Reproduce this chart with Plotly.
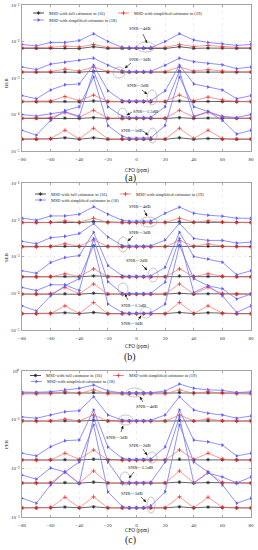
import math
import plotly.graph_objects as go

# ---------------- data ----------------
cfo = [-80, -70, -60, -50, -40, -30, -20, -10, -5, 0, 5, 10, 20, 30, 40, 50, 60, 70, 80]
snr_labels = ["SNR=-4dB", "SNR=-3dB", "SNR=-2dB", "SNR=-1.5dB", "SNR=-1dB"]
legend_labels = ["MSD with full estimator in (16)",
                 "MSD with simplified estimator in (19)",
                 "MSD with simplified estimator in (18)"]
xtick_vals = [-80, -60, -40, -20, 0, 20, 40, 60, 80]

# (a) BER
ber_full_m4 = [6.5e-3, 6.5e-3, 6.6e-3, 6.6e-3, 6.4e-3, 7.2e-3, 6.5e-3, 6.5e-3, 6.5e-3, 6.5e-3, 6.5e-3, 6.5e-3, 6.4e-3, 7.2e-3, 6.5e-3, 6.6e-3, 6.6e-3, 6.5e-3, 6.5e-3]
ber_s19_m4 = [6.8e-3, 6.8e-3, 6.9e-3, 7.5e-3, 7.1e-3, 8.3e-3, 6.9e-3, 6.8e-3, 6.8e-3, 6.8e-3, 6.8e-3, 6.8e-3, 6.9e-3, 8.3e-3, 7.3e-3, 7.8e-3, 7.2e-3, 6.9e-3, 6.8e-3]
ber_s18_m4 = [8.3e-3, 7.6e-3, 9.4e-3, 9.4e-3, 1.06e-2, 1.64e-2, 1.0e-2, 6.9e-3, 6.7e-3, 6.7e-3, 6.7e-3, 6.8e-3, 1.0e-2, 1.64e-2, 1.1e-2, 9.4e-3, 8.6e-3, 7.8e-3, 8.3e-3]
ber_full_m3 = [1.45e-3, 1.45e-3, 1.45e-3, 1.47e-3, 1.44e-3, 1.52e-3, 1.45e-3, 1.45e-3, 1.45e-3, 1.45e-3, 1.45e-3, 1.45e-3, 1.45e-3, 1.52e-3, 1.45e-3, 1.47e-3, 1.45e-3, 1.45e-3, 1.45e-3]
ber_s19_m3 = [1.48e-3, 1.48e-3, 1.5e-3, 1.75e-3, 1.55e-3, 2.0e-3, 1.5e-3, 1.48e-3, 1.48e-3, 1.48e-3, 1.48e-3, 1.48e-3, 1.5e-3, 2.0e-3, 1.55e-3, 1.7e-3, 1.55e-3, 1.5e-3, 1.48e-3]
ber_s18_m3 = [2.0e-3, 1.7e-3, 2.4e-3, 2.7e-3, 3.05e-3, 3.5e-3, 2.25e-3, 1.55e-3, 1.5e-3, 1.5e-3, 1.5e-3, 1.52e-3, 2.25e-3, 3.5e-3, 2.8e-3, 2.5e-3, 2.3e-3, 1.8e-3, 2.0e-3]
ber_full_m2 = [2.24e-4, 2.24e-4, 2.26e-4, 2.28e-4, 2.22e-4, 2.35e-4, 2.24e-4, 2.24e-4, 2.24e-4, 2.24e-4, 2.24e-4, 2.24e-4, 2.24e-4, 2.35e-4, 2.24e-4, 2.28e-4, 2.26e-4, 2.24e-4, 2.24e-4]
ber_s19_m2 = [2.3e-4, 2.3e-4, 2.35e-4, 3.1e-4, 2.4e-4, 3.4e-4, 2.3e-4, 2.3e-4, 2.3e-4, 2.3e-4, 2.3e-4, 2.3e-4, 2.3e-4, 3.4e-4, 2.4e-4, 3.0e-4, 2.5e-4, 2.3e-4, 2.3e-4]
ber_s18_m2 = [3.3e-4, 2.7e-4, 4.7e-4, 6.5e-4, 6.9e-4, 2.25e-3, 4.5e-4, 2.4e-4, 2.35e-4, 2.35e-4, 2.35e-4, 2.38e-4, 4.5e-4, 2.25e-3, 6.9e-4, 5.7e-4, 4.7e-4, 2.7e-4, 3.3e-4]
ber_full_m15 = [7.8e-5, 7.8e-5, 7.9e-5, 8.0e-5, 7.8e-5, 8.2e-5, 7.8e-5, 7.8e-5, 7.8e-5, 7.8e-5, 7.8e-5, 7.8e-5, 7.8e-5, 8.2e-5, 7.8e-5, 8.0e-5, 7.9e-5, 7.8e-5, 7.8e-5]
ber_s19_m15 = [8.0e-5, 8.0e-5, 8.2e-5, 1.13e-4, 8.5e-5, 1.3e-4, 8.0e-5, 8.0e-5, 8.0e-5, 8.0e-5, 8.0e-5, 8.0e-5, 8.0e-5, 1.3e-4, 8.5e-5, 1.15e-4, 8.5e-5, 8.0e-5, 8.0e-5]
ber_s18_m15 = [1.0e-4, 9.0e-5, 1.05e-4, 1.2e-4, 8.9e-5, 1.55e-3, 1.64e-4, 8.9e-5, 8.3e-5, 8.3e-5, 8.3e-5, 8.4e-5, 1.64e-4, 1.55e-3, 8.9e-5, 1.2e-4, 8.9e-5, 8.3e-5, 1.0e-4]
ber_full_m1 = [2.1e-5, 2.1e-5, 2.15e-5, 2.3e-5, 2.1e-5, 2.3e-5, 2.1e-5, 2.1e-5, 2.1e-5, 2.1e-5, 2.1e-5, 2.1e-5, 2.1e-5, 2.3e-5, 2.1e-5, 2.2e-5, 2.1e-5, 2.1e-5, 2.1e-5]
ber_s19_m1 = [2.15e-5, 2.15e-5, 2.2e-5, 3.7e-5, 2.15e-5, 4.2e-5, 2.15e-5, 2.15e-5, 2.15e-5, 2.15e-5, 2.15e-5, 2.15e-5, 2.15e-5, 4.2e-5, 2.2e-5, 3.7e-5, 2.2e-5, 2.15e-5, 2.15e-5]
ber_s18_m1 = [3.7e-5, 2.7e-5, 6.9e-5, 1.28e-4, 1.64e-4, 1.06e-3, 5.0e-5, 2.55e-5, 2.25e-5, 2.25e-5, 2.25e-5, 2.3e-5, 5.0e-5, 1.06e-3, 1.64e-4, 1.2e-4, 6.9e-5, 2.9e-5, 3.7e-5]

# (b) SER
ser_full_m4 = [8.5e-3, 8.5e-3, 8.6e-3, 8.6e-3, 8.4e-3, 8.9e-3, 8.5e-3, 8.5e-3, 8.5e-3, 8.5e-3, 8.5e-3, 8.5e-3, 8.5e-3, 8.9e-3, 8.5e-3, 8.6e-3, 8.6e-3, 8.5e-3, 8.5e-3]
ser_s19_m4 = [8.3e-3, 8.3e-3, 8.4e-3, 9.3e-3, 8.5e-3, 1.1e-2, 8.4e-3, 8.3e-3, 8.3e-3, 8.3e-3, 8.3e-3, 8.3e-3, 8.4e-3, 1.1e-2, 8.6e-3, 9.3e-3, 8.6e-3, 8.4e-3, 8.3e-3]
ser_s18_m4 = [1.12e-2, 9.7e-3, 1.27e-2, 1.27e-2, 1.42e-2, 2.25e-2, 1.42e-2, 9.7e-3, 9.1e-3, 9.1e-3, 9.1e-3, 9.2e-3, 1.5e-2, 2.2e-2, 1.5e-2, 1.33e-2, 1.25e-2, 1.1e-2, 1.1e-2]
ser_full_m3 = [1.88e-3, 1.88e-3, 1.89e-3, 1.9e-3, 1.87e-3, 1.95e-3, 1.88e-3, 1.88e-3, 1.88e-3, 1.88e-3, 1.88e-3, 1.88e-3, 1.88e-3, 1.95e-3, 1.88e-3, 1.9e-3, 1.89e-3, 1.88e-3, 1.88e-3]
ser_s19_m3 = [1.8e-3, 1.8e-3, 1.85e-3, 2.23e-3, 1.9e-3, 2.87e-3, 1.85e-3, 1.8e-3, 1.8e-3, 1.8e-3, 1.8e-3, 1.8e-3, 1.85e-3, 2.74e-3, 1.9e-3, 2.2e-3, 1.9e-3, 1.85e-3, 1.8e-3]
ser_s18_m3 = [2.58e-3, 2.23e-3, 3.25e-3, 3.53e-3, 4.2e-3, 7.9e-3, 3.4e-3, 2.0e-3, 1.92e-3, 1.92e-3, 1.92e-3, 1.95e-3, 2.8e-3, 8.0e-3, 3.1e-3, 2.74e-3, 2.74e-3, 2.31e-3, 2.47e-3]
ser_full_m2 = [2.83e-4, 2.83e-4, 2.85e-4, 2.87e-4, 2.8e-4, 2.95e-4, 2.83e-4, 2.83e-4, 2.83e-4, 2.83e-4, 2.83e-4, 2.83e-4, 2.83e-4, 2.95e-4, 2.83e-4, 2.87e-4, 2.85e-4, 2.83e-4, 2.83e-4]
ser_s19_m2 = [2.75e-4, 2.75e-4, 2.8e-4, 3.4e-4, 2.85e-4, 4.6e-4, 2.8e-4, 2.75e-4, 2.75e-4, 2.75e-4, 2.75e-4, 2.75e-4, 2.8e-4, 4.6e-4, 2.85e-4, 3.4e-4, 2.9e-4, 2.8e-4, 2.75e-4]
ser_s18_m2 = [4.1e-4, 3.5e-4, 6.9e-4, 9.4e-4, 1.06e-3, 4.55e-3, 5.7e-4, 3.0e-4, 2.9e-4, 2.9e-4, 2.9e-4, 2.95e-4, 5.1e-4, 4.55e-3, 1.0e-3, 8.5e-4, 7.0e-4, 3.2e-4, 4.1e-4]
ser_full_m15 = [9.5e-5, 9.5e-5, 9.6e-5, 9.7e-5, 9.4e-5, 1.0e-4, 9.5e-5, 9.5e-5, 9.5e-5, 9.5e-5, 9.5e-5, 9.5e-5, 9.5e-5, 1.0e-4, 9.5e-5, 9.7e-5, 9.6e-5, 9.5e-5, 9.5e-5]
ser_s19_m15 = [9.4e-5, 9.4e-5, 9.6e-5, 1.44e-4, 9.6e-5, 1.79e-4, 9.5e-5, 9.4e-5, 9.4e-5, 9.4e-5, 9.4e-5, 9.4e-5, 9.5e-5, 1.79e-4, 9.6e-5, 1.44e-4, 9.8e-5, 9.5e-5, 9.4e-5]
ser_s18_m15 = [1.44e-4, 1.18e-4, 1.71e-4, 1.69e-4, 1.18e-4, 3.1e-3, 2.07e-4, 1.0e-4, 9.8e-5, 9.8e-5, 9.8e-5, 1.0e-4, 2.0e-4, 3.1e-3, 1.05e-4, 1.6e-4, 1.32e-4, 7.0e-5, 9.5e-5]
ser_full_m1 = [2.8e-5, 2.8e-5, 2.85e-5, 2.95e-5, 2.8e-5, 3.0e-5, 2.8e-5, 2.8e-5, 2.8e-5, 2.8e-5, 2.8e-5, 2.8e-5, 2.8e-5, 3.0e-5, 2.8e-5, 2.95e-5, 2.85e-5, 2.8e-5, 2.8e-5]
ser_s19_m1 = [2.75e-5, 2.75e-5, 2.8e-5, 4.55e-5, 2.8e-5, 5.6e-5, 2.75e-5, 2.75e-5, 2.75e-5, 2.75e-5, 2.75e-5, 2.75e-5, 2.75e-5, 5.6e-5, 2.8e-5, 4.55e-5, 2.85e-5, 2.75e-5, 2.75e-5]
ser_s18_m1 = [4.55e-5, 3.3e-5, 8.5e-5, 1.6e-4, 2.5e-4, 2.0e-3, 5.1e-5, 3.0e-5, 2.85e-5, 2.85e-5, 2.85e-5, 2.9e-5, 5.1e-5, 2.0e-3, 2.5e-4, 1.6e-4, 8.5e-5, 3.0e-5, 4.55e-5]

# (c) PER
per_full_m4 = [0.353, 0.353, 0.355, 0.356, 0.352, 0.362, 0.353, 0.353, 0.353, 0.353, 0.353, 0.353, 0.353, 0.362, 0.353, 0.356, 0.355, 0.353, 0.353]
per_s19_m4 = [0.337, 0.337, 0.34, 0.375, 0.345, 0.41, 0.34, 0.337, 0.337, 0.337, 0.337, 0.337, 0.34, 0.41, 0.345, 0.375, 0.35, 0.34, 0.337]
per_s18_m4 = [0.37, 0.365, 0.375, 0.41, 0.44, 0.516, 0.39, 0.353, 0.355, 0.355, 0.355, 0.357, 0.39, 0.54, 0.44, 0.41, 0.40, 0.36, 0.375]
per_full_m3 = [0.094, 0.094, 0.0945, 0.095, 0.0935, 0.097, 0.094, 0.094, 0.094, 0.094, 0.094, 0.094, 0.094, 0.097, 0.094, 0.095, 0.0945, 0.094, 0.094]
per_s19_m3 = [0.092, 0.092, 0.093, 0.103, 0.094, 0.125, 0.093, 0.092, 0.092, 0.092, 0.092, 0.092, 0.093, 0.125, 0.094, 0.103, 0.095, 0.093, 0.092]
per_s18_m3 = [0.114, 0.107, 0.125, 0.146, 0.153, 0.297, 0.125, 0.0986, 0.096, 0.096, 0.096, 0.097, 0.125, 0.297, 0.158, 0.135, 0.125, 0.107, 0.119]
per_full_m2 = [0.0149, 0.0149, 0.015, 0.0151, 0.0148, 0.0154, 0.0149, 0.0149, 0.0149, 0.0149, 0.0149, 0.0149, 0.0149, 0.0154, 0.0149, 0.0151, 0.015, 0.0149, 0.0149]
per_s19_m2 = [0.0146, 0.0146, 0.0148, 0.0204, 0.0153, 0.0239, 0.0147, 0.0146, 0.0146, 0.0146, 0.0146, 0.0146, 0.0147, 0.0239, 0.0153, 0.0204, 0.0155, 0.0147, 0.0146]
per_s18_m2 = [0.0204, 0.018, 0.0279, 0.037, 0.0383, 0.158, 0.0275, 0.0161, 0.0153, 0.0153, 0.0153, 0.0155, 0.0275, 0.158, 0.038, 0.035, 0.030, 0.018, 0.0204]
per_full_m15 = [5.0e-3, 5.0e-3, 5.05e-3, 5.1e-3, 4.95e-3, 5.2e-3, 5.0e-3, 5.0e-3, 5.0e-3, 5.0e-3, 5.0e-3, 5.0e-3, 5.0e-3, 5.2e-3, 5.0e-3, 5.1e-3, 5.05e-3, 5.0e-3, 5.0e-3]
per_s19_m15 = [4.9e-3, 4.9e-3, 5.0e-3, 8.4e-3, 5.0e-3, 8.85e-3, 4.95e-3, 4.9e-3, 4.9e-3, 4.9e-3, 4.9e-3, 4.9e-3, 4.95e-3, 8.85e-3, 5.0e-3, 8.4e-3, 5.1e-3, 4.95e-3, 4.9e-3]
per_s18_m15 = [7.3e-3, 6.0e-3, 1.02e-2, 8.4e-3, 4.8e-3, 0.114, 1.35e-2, 5.2e-3, 5.1e-3, 5.1e-3, 5.1e-3, 5.2e-3, 1.35e-2, 0.114, 5.0e-3, 8.0e-3, 6.65e-3, 5.0e-3, 6.65e-3]
per_full_m1 = [1.54e-3, 1.54e-3, 1.56e-3, 1.6e-3, 1.54e-3, 1.62e-3, 1.54e-3, 1.54e-3, 1.54e-3, 1.54e-3, 1.54e-3, 1.54e-3, 1.54e-3, 1.62e-3, 1.54e-3, 1.6e-3, 1.56e-3, 1.54e-3, 1.54e-3]
per_s19_m1 = [1.54e-3, 1.54e-3, 1.56e-3, 2.55e-3, 1.55e-3, 2.6e-3, 1.55e-3, 1.54e-3, 1.54e-3, 1.54e-3, 1.54e-3, 1.54e-3, 1.55e-3, 2.6e-3, 1.55e-3, 2.55e-3, 1.58e-3, 1.55e-3, 1.54e-3]
per_s18_m1 = [2.43e-3, 1.92e-3, 4.56e-3, 8.4e-3, 1.35e-2, 0.078, 3.3e-3, 1.64e-3, 1.55e-3, 1.55e-3, 1.55e-3, 1.7e-3, 3.3e-3, 0.078, 1.35e-2, 8.4e-3, 4.56e-3, 1.92e-3, 2.43e-3]

# ---------------- layout constants (pixels) ----------------
W, H = 258, 550
PX_L, PX_R = 22, 251
SERIF = "Liberation Serif, Times New Roman, serif"
C_K, C_R, C_B = "#222222", "#ff6b6b", "#7474ff"
SUP = str.maketrans("-0123456789", "\u207b\u2070\u00b9\u00b2\u00b3\u2074\u2075\u2076\u2077\u2078\u2079")

def py(p):  # pixel row -> paper y
    return 1 - p / H

panels = [
    dict(ax="", top=5, bot=151, rng=[-5, -1],
         full=[ber_full_m4, ber_full_m3, ber_full_m2, ber_full_m15, ber_full_m1],
         s19=[ber_s19_m4, ber_s19_m3, ber_s19_m2, ber_s19_m15, ber_s19_m1],
         s18=[ber_s18_m4, ber_s18_m3, ber_s18_m2, ber_s18_m15, ber_s18_m1]),
    dict(ax="2", top=183, bot=330, rng=[-5, -1],
         full=[ser_full_m4, ser_full_m3, ser_full_m2, ser_full_m15, ser_full_m1],
         s19=[ser_s19_m4, ser_s19_m3, ser_s19_m2, ser_s19_m15, ser_s19_m1],
         s18=[ser_s18_m4, ser_s18_m3, ser_s18_m2, ser_s18_m15, ser_s18_m1]),
    dict(ax="3", top=371, bot=517, rng=[-3, 0],
         full=[per_full_m4, per_full_m3, per_full_m2, per_full_m15, per_full_m1],
         s19=[per_s19_m4, per_s19_m3, per_s19_m2, per_s19_m15, per_s19_m1],
         s18=[per_s18_m4, per_s18_m3, per_s18_m2, per_s18_m15, per_s18_m1]),
]

fig = go.Figure()
layout = dict(width=W, height=H, margin=dict(l=0, r=0, t=0, b=0, autoexpand=False),
              paper_bgcolor="white", plot_bgcolor="rgba(0,0,0,0)",
              showlegend=False, font=dict(family=SERIF, size=5, color="#222"))

axstyle = dict(showline=True, linecolor="#666", linewidth=0.6, mirror="ticks",
               ticks="inside", ticklen=2, tickwidth=0.5, tickcolor="#666",
               showgrid=True, gridcolor="#e0e0e0", gridwidth=0.5, griddash="dot",
               zeroline=False, automargin=False,
               tickfont=dict(family=SERIF, size=5, color="#333"))

MK_K = dict(symbol="asterisk-open", size=3, color=C_K, line=dict(color=C_K, width=0.7))
MK_R = dict(symbol="cross-thin-open", size=3, color="#e82020", line=dict(color="#e82020", width=0.7))
MK_B = dict(symbol="triangle-right", size=3.5, color="#5c5cff", line=dict(color="#5c5cff", width=0))

for p in panels:
    a = p["ax"]
    xa, ya = "x" + a, "y" + a
    for g in range(5):
        fig.add_trace(go.Scatter(x=cfo, y=p["full"][g], xaxis=xa, yaxis=ya, mode="lines+markers",
                                 line=dict(color=C_K, width=0.7), marker=MK_K))
        fig.add_trace(go.Scatter(x=cfo, y=p["s19"][g], xaxis=xa, yaxis=ya, mode="lines+markers",
                                 line=dict(color=C_R, width=0.7), marker=MK_R))
        fig.add_trace(go.Scatter(x=cfo, y=p["s18"][g], xaxis=xa, yaxis=ya, mode="lines+markers",
                                 line=dict(color=C_B, width=0.8), marker=MK_B))
    exps = list(range(p["rng"][0], p["rng"][1] + 1))
    layout["xaxis" + a] = dict(axstyle, domain=[PX_L / W, PX_R / W], range=[-80, 80],
                               tickvals=xtick_vals, anchor=ya, ticklabelstandoff=3)
    layout["yaxis" + a] = dict(axstyle, type="log", domain=[py(p["bot"]), py(p["top"])], range=p["rng"],
                               tickvals=[10.0 ** e for e in exps],
                               ticktext=["10" + str(e).translate(SUP) for e in exps],
                               anchor=xa, ticklabelstandoff=1)

# overlay pixel axis for legend samples, labels and callouts
layout["xaxis4"] = dict(domain=[0, 1], range=[0, W], visible=False, anchor="y4", fixedrange=True)
layout["yaxis4"] = dict(domain=[0, 1], range=[H, 0], visible=False, anchor="x4", fixedrange=True)

annotations = []
shapes = []

def text(x, y, s, size=4.8, anchor="center", angle=0):
    annotations.append(dict(x=x, y=y, xref="x4", yref="y4", text=s, showarrow=False,
                            xanchor=anchor, yanchor="middle", textangle=angle,
                            font=dict(family=SERIF, size=size, color="#222")))

# legends: (row1 y, row2 y, black x0, red x0, blue x0)
legends = [(13, 20, 33, 118, 33), (194, 200, 35, 120, 35), (375.5, 381.5, 30, 113, 31)]
for (r1, r2, kx, rx, bx) in legends:
    for (x0, yy, col, mk, lab) in [(kx, r1, C_K, MK_K, legend_labels[0]),
                                   (rx, r1, C_R, MK_R, legend_labels[1]),
                                   (bx, r2, C_B, MK_B, legend_labels[2])]:
        fig.add_trace(go.Scatter(x=[x0, x0 + 11], y=[yy, yy], xaxis="x4", yaxis="y4", mode="lines",
                                 line=dict(color=col, width=0.8), hoverinfo="skip"))
        fig.add_trace(go.Scatter(x=[x0 + 5.5], y=[yy], xaxis="x4", yaxis="y4", mode="markers",
                                 marker=mk, hoverinfo="skip"))
        text(x0 + 14, yy, lab, size=4.4, anchor="left")

# axis titles and panel labels
for (ylab, yc, xt_y, lab, lab_y) in [("BER", 83, 170, "(a)", 178),
                                     ("SER", 257, 346, "(b)", 357),
                                     ("PER", 444, 530, "(c)", 540)]:
    text(6, yc, ylab, size=5, angle=-90)
    text(137, xt_y, "CFO (ppm)", size=5.2)
    text(130, lab_y, lab, size=10)

# SNR callouts: label pos, arrow head, arrow tail, ellipse box
callouts = [
    # (a)
    ((140, 28), (147, 43), (143, 34), (137, 155, 42, 52)),
    ((140, 59), (125, 68), (131, 63), (113, 125, 67, 78)),
    ((138, 85), (147, 94), (142, 90), (147, 157, 90, 105)),
    ((145, 111), (127, 115), (132, 112), (118, 127, 108, 120)),
    ((132, 130), (148, 135), (143, 131), (148, 157, 128, 143)),
    # (b)
    ((140, 206), (147, 216), (144, 210), (140, 157, 217, 227)),
    ((140, 232), (128, 241), (133, 236), (118, 128, 237, 252)),
    ((137, 260), (147, 270), (142, 265), (148, 158, 268, 282)),
    ((133, 305), (125, 294), (128, 300), (118, 128, 283, 295)),
    ((132, 323), (141, 316), (138, 320), (140, 152, 307, 318)),
    # (c)
    ((147, 406), (140, 397), (143, 402), (126, 143, 388, 397)),
    ((117, 437), (123, 426), (121, 432), (118, 133, 415, 425)),
    ((140, 445), (147, 455), (143, 449), (147, 157, 452, 463)),
    ((140, 467), (129, 478), (134, 472), (120, 130, 472, 485)),
    ((132, 493), (146, 502), (141, 497), (147, 155, 497, 513)),
]
for i, (tp, hd, tl, el) in enumerate(callouts):
    text(tp[0], tp[1], snr_labels[i % 5], size=4.8)
    shapes.append(dict(type="line", xref="x4", yref="y4", x0=tl[0], y0=tl[1], x1=hd[0], y1=hd[1],
                       line=dict(color="#111", width=0.6), layer="above"))
    dx, dy = hd[0] - tl[0], hd[1] - tl[1]
    L = math.hypot(dx, dy)
    ux, uy = dx / L, dy / L
    bx_, by_ = hd[0] - 2.6 * ux, hd[1] - 2.6 * uy
    px_, py_ = -uy * 1.2, ux * 1.2
    path = "M %.2f %.2f L %.2f %.2f L %.2f %.2f Z" % (hd[0], hd[1], bx_ + px_, by_ + py_, bx_ - px_, by_ - py_)
    shapes.append(dict(type="path", xref="x4", yref="y4", path=path, fillcolor="#111",
                       line=dict(color="#111", width=0.3), layer="above"))
    shapes.append(dict(type="circle", xref="x4", yref="y4", x0=el[0], x1=el[1], y0=el[2], y1=el[3],
                       line=dict(color="#8a8a8a", width=0.5), layer="above"))

layout["annotations"] = annotations
layout["shapes"] = shapes
fig.update_layout(**layout)
fig.write_html("out.html", config={"displayModeBar": False, "staticPlot": True},
               post_script="document.body.style.margin='0';document.body.style.padding='0';")
